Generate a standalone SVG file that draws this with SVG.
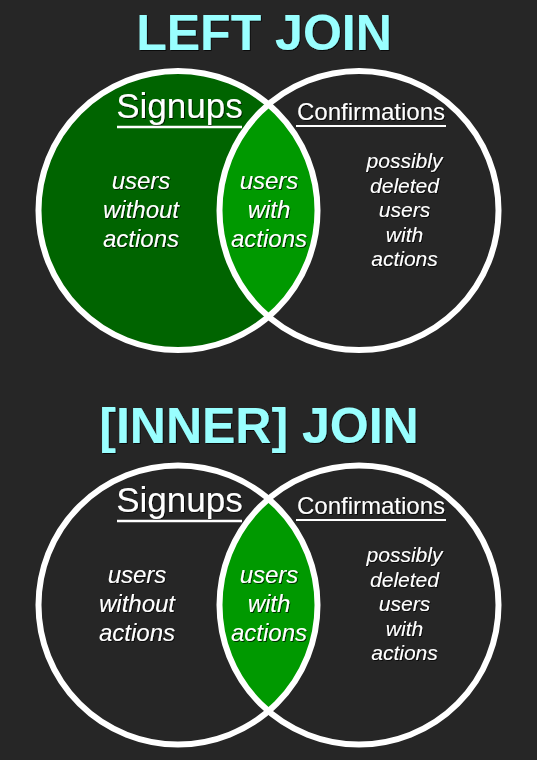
<svg xmlns="http://www.w3.org/2000/svg" width="537" height="760" viewBox="0 0 537 760">
  <defs>
    <filter id="shadow" x="-10%" y="-10%" width="120%" height="130%">
      <feDropShadow dx="1" dy="1" stdDeviation="0.6" flood-color="#000" flood-opacity="0.7"/>
    </filter>
  </defs>
  <style>
    .bg { fill: #262626; }
    .ring { fill: none; stroke: #ffffff; stroke-width: 6; }
    .left-fill { fill: #006400; }
    .lens { fill: #009900; }
    .title { font-family: "Liberation Sans", Arial, sans-serif; font-weight: bold; font-size: 50px; fill: #99ffff; text-anchor: middle; filter: url(#shadow); }
    .set { font-family: "Liberation Sans", Arial, sans-serif; fill: #ffffff; text-anchor: middle; filter: url(#shadow); }
    .big { font-size: 35px; }
    .small { font-size: 24px; }
    .uline { stroke: #ffffff; }
    .body { font-family: "Liberation Sans", Arial, sans-serif; font-style: italic; fill: #ffffff; text-anchor: middle; filter: url(#shadow); }
    .b24 { font-size: 24px; }
    .b21 { font-size: 21px; }
  </style>

  <rect class="bg" x="0" y="0" width="537" height="760"/>

  <!-- LEFT JOIN: all of Signups plus the overlap -->
  <g id="left-join">
    <text id="left-join-title" class="title" x="264" y="50">LEFT JOIN</text>
    <circle class="left-fill" cx="178" cy="210.5" r="139.5"/>
    <path class="lens" d="M268.5,105 A139.5,139.5 0 0 0 268.5,316 A139.5,139.5 0 0 0 268.5,105 Z"/>
    <circle class="ring" cx="178" cy="210.5" r="139.5"/>
    <circle class="ring" cx="359" cy="210.5" r="139.5"/>

    <g id="lj-signups">
      <text class="set big" x="179.5" y="118">Signups</text>
      <line class="uline" x1="117" y1="127" x2="242" y2="127" stroke-width="2.5"/>
      <text class="body b24" x="141" y="189">users</text>
      <text class="body b24" x="141" y="218">without</text>
      <text class="body b24" x="141" y="247">actions</text>
    </g>
    <g id="lj-overlap">
      <text class="body b24" x="269" y="189">users</text>
      <text class="body b24" x="269" y="218">with</text>
      <text class="body b24" x="269" y="247">actions</text>
    </g>
    <g id="lj-confirmations">
      <text class="set small" x="371" y="120">Confirmations</text>
      <line class="uline" x1="296" y1="126" x2="446" y2="126" stroke-width="2"/>
      <text class="body b21" x="404.5" y="168">possibly</text>
      <text class="body b21" x="404.5" y="193">deleted</text>
      <text class="body b21" x="404.5" y="217">users</text>
      <text class="body b21" x="404.5" y="242">with</text>
      <text class="body b21" x="404.5" y="266">actions</text>
    </g>
  </g>

  <!-- [INNER] JOIN: only the overlap -->
  <g id="inner-join">
    <text id="inner-join-title" class="title" x="259" y="443">[INNER] JOIN</text>
    <path class="lens" d="M268.5,499.5 A139.5,139.5 0 0 0 268.5,710.5 A139.5,139.5 0 0 0 268.5,499.5 Z"/>
    <circle class="ring" cx="178" cy="605" r="139.5"/>
    <circle class="ring" cx="359" cy="605" r="139.5"/>

    <g id="ij-signups">
      <text class="set big" x="179.5" y="512">Signups</text>
      <line class="uline" x1="117" y1="521" x2="242" y2="521" stroke-width="2.5"/>
      <text class="body b24" x="137" y="583">users</text>
      <text class="body b24" x="137" y="612">without</text>
      <text class="body b24" x="137" y="641">actions</text>
    </g>
    <g id="ij-overlap">
      <text class="body b24" x="269" y="583">users</text>
      <text class="body b24" x="269" y="612">with</text>
      <text class="body b24" x="269" y="641">actions</text>
    </g>
    <g id="ij-confirmations">
      <text class="set small" x="371" y="514">Confirmations</text>
      <line class="uline" x1="296" y1="520" x2="446" y2="520" stroke-width="2"/>
      <text class="body b21" x="404.5" y="562">possibly</text>
      <text class="body b21" x="404.5" y="587">deleted</text>
      <text class="body b21" x="404.5" y="611">users</text>
      <text class="body b21" x="404.5" y="636">with</text>
      <text class="body b21" x="404.5" y="660">actions</text>
    </g>
  </g>
</svg>
